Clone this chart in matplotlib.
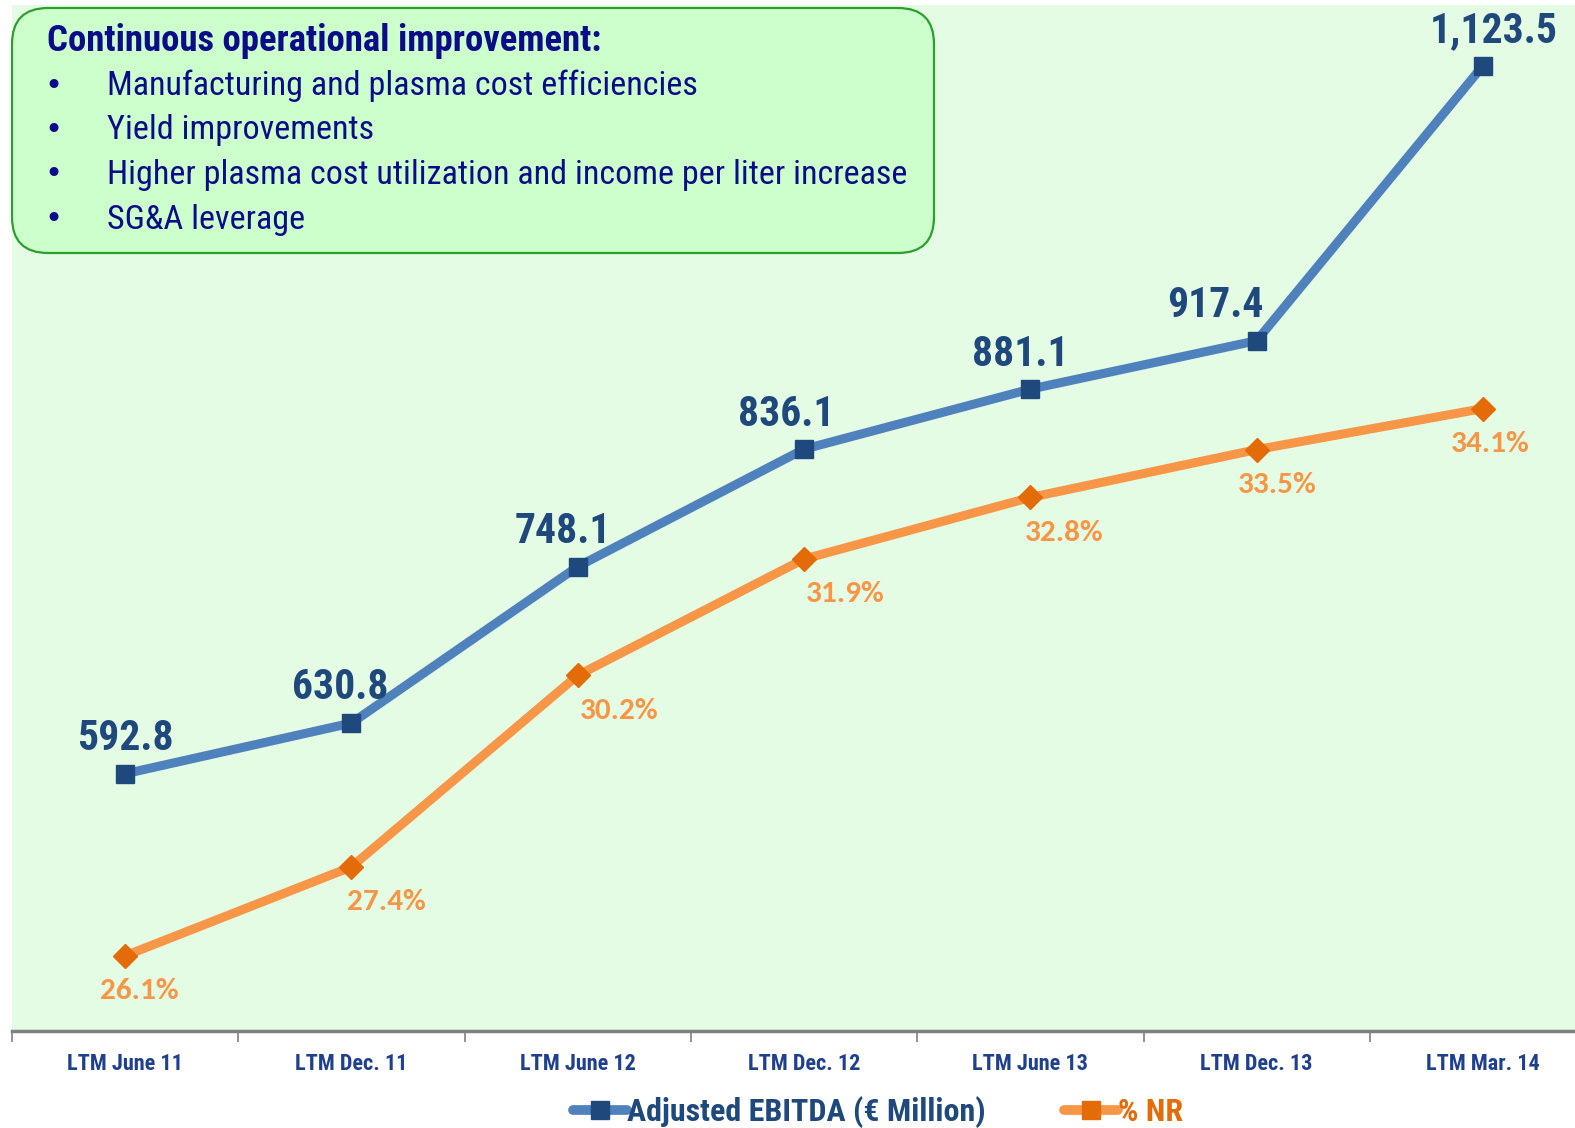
import matplotlib
matplotlib.use("Agg")
import matplotlib.pyplot as plt
from matplotlib.patches import FancyBboxPatch
from matplotlib.transforms import IdentityTransform
from matplotlib.lines import Line2D

categories = ["LTM June 11", "LTM Dec. 11", "LTM June 12", "LTM Dec. 12",
              "LTM June 13", "LTM Dec. 13", "LTM Mar. 14"]
ebitda = [592.8, 630.8, 748.1, 836.1, 881.1, 917.4, 1123.5]
pct_nr = [26.1, 27.4, 30.2, 31.9, 32.8, 33.5, 34.1]
ebitda_labels = ["592.8", "630.8", "748.1", "836.1", "881.1", "917.4", "1,123.5"]
pct_labels = ["26.1%", "27.4%", "30.2%", "31.9%", "32.8%", "33.5%", "34.1%"]
box_title = "Continuous operational improvement:"
box_bullets = ["Manufacturing and plasma cost efficiencies",
               "Yield improvements",
               "Higher plasma cost utilization and income per liter increase",
               "SG&A leverage"]

NARROW = ["Roboto Condensed", "PT Sans Narrow", "DejaVu Sans"]
PCTFONT = ["Carlito", "DejaVu Sans"]

W, H = 1575, 1128
fig = plt.figure(figsize=(W / 100, H / 100), dpi=100)
fig.patch.set_facecolor("white")

left_px, right_px, top_px, bot_px = 12, 12 + 7 * 226.3, 5, 1031
ax = fig.add_axes([left_px / W, 1 - bot_px / H, (right_px - left_px) / W, (bot_px - top_px) / H])
ax.set_facecolor("#E4FCE4")
ax2 = ax.twinx()

x = list(range(len(categories)))
BLUE_LINE, BLUE_MK = "#4F81BD", "#1F497D"
ORG_LINE, ORG_MK = "#F79646", "#E36C09"

ax.plot(x, ebitda, color=BLUE_LINE, lw=6.5, marker="s", ms=13,
        mfc=BLUE_MK, mec=BLUE_MK, zorder=3, solid_joinstyle="miter")
ax2.plot(x, pct_nr, color=ORG_LINE, lw=6.5, marker="D", ms=12,
         mfc=ORG_MK, mec=ORG_MK, zorder=3, solid_joinstyle="miter")

ax.set_xlim(-0.5, 6.5)
ax.set_ylim(400, 1169)
ax2.set_ylim(25, 40)

# value labels
blue_dx = [0, -8, -11, -13, -7, -30, 8]
for xi, v, s, dx in zip(x, ebitda, ebitda_labels, blue_dx):
    ax.annotate(s, (xi, v), xytext=(dx, 17), textcoords="offset points",
                ha="center", va="baseline", fontsize=30, fontweight="bold",
                color=BLUE_MK, family=NARROW)
org_dx = [10, 25, 30, 30, 24, 15, 5]
for xi, v, s, dx in zip(x, pct_nr, pct_labels, org_dx):
    ax2.annotate(s, (xi, v), xytext=(dx, -16), textcoords="offset points",
                 ha="center", va="top", fontsize=22.5, fontweight="bold",
                 color=ORG_LINE, family=PCTFONT)

# axes styling
for a in (ax, ax2):
    for sp in ("top", "left", "right"):
        a.spines[sp].set_visible(False)
    a.set_yticks([])
ax2.spines["bottom"].set_visible(False)
ax.spines["bottom"].set_color("#808080")
ax.spines["bottom"].set_linewidth(2.5)
ax.set_xticks(x)
ax.set_xticklabels(categories, family=NARROW, fontsize=16, fontweight="bold", color="#1F3F8F")
ax.tick_params(axis="x", which="major", length=0, pad=16)
ax.set_xticks([i - 0.5 for i in range(len(categories) + 1)], minor=True)
ax.tick_params(axis="x", which="minor", length=8, width=1.2, color="#808080", direction="out")

# rounded text box (pixel coordinates, origin at bottom-left)
bx0, by0, bx1, by1 = 12, 8, 934, 253
box = FancyBboxPatch((bx0 + 36, H - by1 + 36), (bx1 - bx0) - 72, (by1 - by0) - 72,
                     boxstyle="round,pad=36,rounding_size=36",
                     transform=IdentityTransform(), facecolor="#CCFFCC",
                     edgecolor="#2E9E2E", linewidth=1.6, zorder=5)
fig.patches.append(box)

NAVY = "#0C0C88"
fig.text(47 / W, 1 - 41 / H, box_title, family=NARROW, fontsize=26.5, fontweight="bold",
         color=NAVY, va="center", ha="left", zorder=6)
for i, b in enumerate(box_bullets):
    yy = 1 - (86 + i * 44.5) / H
    fig.text(53 / W, yy, "\u2022", family=["DejaVu Sans"], fontsize=22, color=NAVY,
             va="center", ha="center", zorder=6)
    fig.text(107 / W, yy, b, family=NARROW, fontsize=24.6, color=NAVY,
             va="center", ha="left", zorder=6)

# legend
handles = [Line2D([], [], color=BLUE_LINE, lw=7, marker="s", ms=13, mfc=BLUE_MK, mec=BLUE_MK,
                  solid_capstyle="round"),
           Line2D([], [], color=ORG_LINE, lw=7, marker="s", ms=13, mfc=ORG_MK, mec=ORG_MK,
                  solid_capstyle="round")]
leg = fig.legend(handles, ["Adjusted EBITDA (\u20ac Million)", "% NR"],
                 loc="center", bbox_to_anchor=(878 / W, 1 - 1112 / H), ncol=2,
                 frameon=False, handlelength=1.7, handletextpad=0.0, columnspacing=2.45,
                 prop={"family": NARROW, "size": 23, "weight": "bold"})
for t, c in zip(leg.get_texts(), [BLUE_MK, ORG_MK]):
    t.set_color(c)

fig.savefig("out.png", dpi=100, facecolor="white")
